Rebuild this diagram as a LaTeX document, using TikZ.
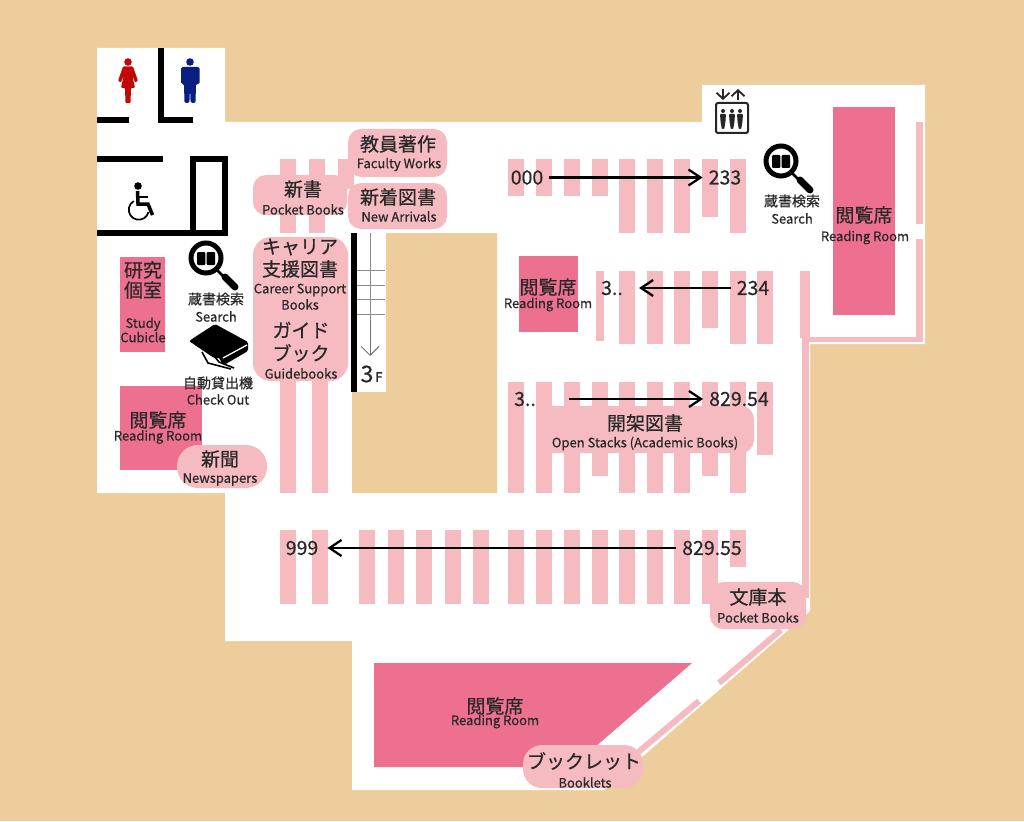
\documentclass[tikz,border=0pt]{standalone}
\usepackage{fontspec}
\usepackage{xcolor}
\setmainfont{Noto Sans CJK JP}[FakeBold=0.5]
\usetikzlibrary{arrows.meta}
\definecolor{floorbg}{RGB}{237,205,155}
\definecolor{shelfpink}{RGB}{245,187,193}
\definecolor{seatpink}{RGB}{238,112,144}
\definecolor{labeldark}{RGB}{40,40,40}
\definecolor{ladyred}{RGB}{192,8,8}
\definecolor{mannavy}{RGB}{10,30,130}
\tikzset{
  shelf/.style={fill=shelfpink,draw=none},
  seat/.style={fill=seatpink,draw=none},
  wall/.style={black,line width=6pt},
  tagbox/.style={fill=shelfpink,rounded corners=13pt,inner sep=0pt,outer sep=0pt},
  jplabel/.style={text=labeldark,inner sep=0pt,font=\fontsize{19}{21}\selectfont},
  jpsmall/.style={text=labeldark,inner sep=0pt,font=\fontsize{14}{16}\selectfont},
  enlabel/.style={text=labeldark,inner sep=0pt,font=\fontsize{13}{14}\selectfont},
  numlabel/.style={text=labeldark,inner sep=0pt,font=\fontsize{19.5}{21}\selectfont},
  callarrow/.style={line width=2.3pt,-{Straight Barb[length=12pt,width=16pt]}},
}
% magnifier with open book, #1 = offset from the left-hand one
\newcommand{\lensicon}[1]{
  \begin{scope}[shift={(#1)}]
    \draw[black,line width=5pt] (206,258) circle (15pt);
    \draw[black,line width=2.5pt] (216,269) -- (224,277);
    \draw[black,line width=7pt,line cap=round] (225,277) -- (235,287);
    \fill[black,rounded corners=1pt] (197,252) rectangle (205.4,265);
    \fill[black,rounded corners=1pt] (206.6,252) rectangle (215,265);
  \end{scope}
}
\begin{document}
\begin{tikzpicture}[x=1pt,y=-1pt]
\useasboundingbox (0,0) rectangle (1024,821);
\fill[floorbg] (0,0) rectangle (1024,821);

% floor
\fill[white] (97,48) -- (225,48) -- (225,122) -- (702,122) -- (702,85) -- (925,85)
  -- (925,344) -- (810,344) -- (810,611) -- (604,790) -- (352,790) -- (352,641)
  -- (225,641) -- (225,493) -- (97,493) -- cycle;
\fill[floorbg] (386,233) -- (497,233) -- (497,493) -- (352,493) -- (352,392) -- (386,392) -- cycle;

% shelves, top right block
\foreach \x in {508,536,564,592}
  \fill[shelf] (\x,159) rectangle ++(16,37);
\foreach \x in {619,647,674,730}
  \fill[shelf] (\x,159) rectangle ++(16,74);
\fill[shelf] (702,159) rectangle ++(16,58);
% second row
\fill[shelf] (596,271) rectangle (604,341);
\foreach \x in {619,647,674,730,757}
  \fill[shelf] (\x,271) rectangle ++(16,73);
\fill[shelf] (702,271) rectangle ++(16,57);
\fill[shelf] (800,271) rectangle (810,338);
% third row
\foreach \x in {508,536,564,619,647,674,730}
  \fill[shelf] (\x,382) rectangle ++(16,111);
\foreach \x in {592,702}
  \fill[shelf] (\x,382) rectangle ++(16,94);
\fill[shelf] (757,382) rectangle ++(16,73);
% long row
\foreach \x in {280,312,359,388,416,445,473,508,536,564,592,619,647,674,702}
  \fill[shelf] (\x,530) rectangle ++(16,74);
\fill[shelf] (730,530) rectangle ++(16,37);
% left block
\foreach \x in {280,309}
  \fill[shelf] (\x,159) rectangle ++(16,74);
\fill[shelf] (338,159) rectangle ++(16,30);
\foreach \x in {280,312}
  \fill[shelf] (\x,300) rectangle ++(16,193);
% strips along the walls
\fill[shelf] (916,122) rectangle (923,224);
\fill[shelf] (916,239) rectangle (923,342);
\fill[shelf] (803,337) rectangle (923,342);
\fill[shelf] (802,337) rectangle (809,598);
\draw[shelfpink,line width=6pt] (781,630) -- (719,683);
\draw[shelfpink,line width=6pt] (699,701) -- (636,754);

% reading rooms
\fill[seat] (120,257) rectangle (165,352);
\fill[seat] (120,386) rectangle (202,470);
\fill[seat] (519,256) rectangle (578,332);
\fill[seat] (833,107) rectangle (895,315);
\fill[seat] (374,663) -- (692,663) -- (572,767) -- (374,767) -- cycle;

% walls
\draw[wall] (161,48) -- (161,120) -- (193,120);
\draw[wall] (97,120) -- (129,120);
\draw[wall] (97,159) -- (163,159);
\draw[wall] (97,233) -- (225,233) -- (225,159) -- (193,159) -- (193,233);
\fill[black] (351,233) rectangle (357,392);

% stairs
\draw[black!45,line width=1pt] (370,233) -- (370,350);
\foreach \y in {270,285,299,314}
  \draw[black!45,line width=1pt] (357,\y) -- (385,\y);
\coordinate (stairtop) at (370,320);
\coordinate (stairend) at (370,356);
\draw[black!55,line width=1pt,-{Straight Barb[length=9pt,width=18pt]}] (stairtop) -- (stairend);
\node[numlabel,font=\fontsize{23}{26}\selectfont] (floornum) at (367,374) {3};
\node[numlabel,font=\fontsize{13}{14}\selectfont] (floorunit) at (379,377) {F};

% toilets
\fill[ladyred] (128,62) circle (3.8pt);
\fill[ladyred,rounded corners=1pt] (123,66.5) -- (133,66.5) -- (138,81) -- (135,82.5) -- (132,74)
  -- (135,88) -- (131,88) -- (130.5,103) -- (125.5,103) -- (125,88) -- (121,88) -- (124,74)
  -- (121,82.5) -- (118,81) -- cycle;
\fill[mannavy] (190,62) circle (3.8pt);
\fill[mannavy,rounded corners=1.5pt] (181,67) -- (199.5,67) -- (199.5,84) -- (196,84) -- (195.5,103)
  -- (190.6,103) -- (190,87) -- (189.4,103) -- (184.5,103) -- (184,84) -- (181,84) -- cycle;

% wheelchair
\fill[black] (138,186) circle (3.8pt);
\draw[black,line width=3.5pt] (137.5,191) -- (138,204) -- (148,204) -- (152.5,215);
\draw[black,line width=2pt] (138,197) -- (148,197);
\draw[black,line width=1.7pt] (148.5,212) arc[start angle=-13,end angle=-240,radius=10pt];

% elevator
\draw[black!85,line width=2pt,rounded corners=2pt] (716,103) rectangle (748,133);
\foreach \x in {723,732,740} {
  \fill[black!85] (\x,111) circle (2pt);
  \fill[black!85,rounded corners=0.8pt] (\x-3,114) -- (\x+3,114) -- (\x+2.4,122) -- (\x+1.2,129)
    -- (\x-1.2,129) -- (\x-2.4,122) -- cycle;
}
\draw[black!85,line width=1.8pt,-{Straight Barb[length=6pt,width=13pt]}] (723,89) -- (723,100);
\draw[black!85,line width=1.8pt,-{Straight Barb[length=6pt,width=13pt]}] (738,100) -- (738,89);

% search and check out
\lensicon{0,0}
\lensicon{575,-97}
\fill[black,rounded corners=1.5pt] (189,341) -- (215,324) -- (248,342) -- (248,351) -- (224,365)
  -- (222,358) -- (214,358) -- cycle;
\draw[white,line width=1.3pt] (223,358) -- (247,345);
\draw[black,line width=1.6pt] (202,352) -- (208,363) -- (231,369);
\draw[black,line width=1.6pt] (210,351) -- (219,362) -- (234,368);
\draw[black,line width=2pt] (217,353) -- (224,364);

% tags
\node[tagbox,minimum width=99pt,minimum height=48pt] (facultytag) at (397.5,153) {};
\node[tagbox,minimum width=99pt,minimum height=46pt] (arrivaltag) at (397.5,206) {};
\node[tagbox,minimum width=94pt,minimum height=40pt] (pockettag) at (300,195) {};
\node[tagbox,minimum width=95pt,minimum height=144pt,rounded corners=18pt] (careertag) at (300.5,309) {};
\node[tagbox,minimum width=90pt,minimum height=43pt,rounded corners=21pt] (newstag) at (222,466.5) {};
\node[tagbox,minimum width=217pt,minimum height=47pt] (stacktag) at (645.5,429.5) {};
\node[tagbox,minimum width=96pt,minimum height=47pt] (bunkotag) at (758,605.5) {};
\node[tagbox,minimum width=120pt,minimum height=43pt,rounded corners=19pt] (bookletag) at (583,766.5) {};

% labels
\node[jplabel] (facultyjp) at (398,144) {教員著作};
\node[enlabel] (facultyen) at (399,164.5) {Faculty Works};
\node[jplabel] (arrivaljp) at (398,197) {新着図書};
\node[enlabel] (arrivalen) at (399,216.5) {New Arrivals};
\node[jplabel] (pocketjp) at (303,189) {新書};
\node[enlabel] (pocketen) at (303,209.5) {Pocket Books};
\node[jplabel] (careerjpa) at (300,247) {キャリア};
\node[jplabel] (careerjpb) at (300,269) {支援図書};
\node[enlabel] (careerena) at (300,290) {Career Support};
\node[enlabel] (careerenb) at (300,304.5) {Books};
\node[jplabel] (guidejpa) at (301,330) {ガイド};
\node[jplabel] (guidejpb) at (301,353) {ブック};
\node[enlabel] (guideen) at (301,373.5) {Guidebooks};
\node[jplabel] (cubiclejpa) at (143,270) {研究};
\node[jplabel] (cubiclejpb) at (143,290) {個室};
\node[enlabel,align=center,font=\fontsize{13}{10}\selectfont] (cubicleen) at (143,330) {Study\\Cubicle};
\node[jpsmall] (searchjpa) at (216,299) {蔵書検索};
\node[enlabel] (searchena) at (216,316.5) {Search};
\node[jpsmall] (searchjpb) at (792,201) {蔵書検索};
\node[enlabel] (searchenb) at (792,218.5) {Search};
\node[jpsmall] (checkjp) at (218,383) {自動貸出機};
\node[enlabel] (checken) at (218,399.5) {Check Out};
\node[jplabel] (readjpa) at (158,420) {閲覧席};
\node[enlabel] (readena) at (158,437) {Reading Room};
\node[jplabel] (newsjp) at (220,459) {新聞};
\node[enlabel] (newsen) at (220,479.5) {Newspapers};
\node[jplabel] (readjpb) at (548,287) {閲覧席};
\node[enlabel] (readenb) at (548,304.5) {Reading Room};
\node[jplabel] (readjpc) at (864,215) {閲覧席};
\node[enlabel] (readenc) at (865,237.5) {Reading Room};
\node[jplabel] (readjpd) at (495,706) {閲覧席};
\node[enlabel] (readend) at (495,721.5) {Reading Room};
\node[jplabel] (stackjp) at (645,423) {開架図書};
\node[enlabel] (stacken) at (645,443.5) {Open Stacks (Academic Books)};
\node[jplabel] (bunkojp) at (758,597) {文庫本};
\node[enlabel] (bunkoen) at (758,617.5) {Pocket Books};
\node[jplabel] (bookletjp) at (584,761) {ブックレット};
\node[enlabel] (bookleten) at (585,782.5) {Booklets};

% call number ranges
\node[numlabel] (numa) at (527,177.5) {000};
\node[numlabel] (numb) at (725,177.5) {233};
\node[numlabel] (numc) at (612,288) {3..};
\node[numlabel] (numd) at (753,288) {234};
\node[numlabel] (nume) at (525,399) {3..};
\node[numlabel] (numf) at (739,399) {829.54};
\node[numlabel] (numg) at (712,548) {829.55};
\node[numlabel] (numh) at (302,548) {999};
\draw[callarrow,shorten <=6pt,shorten >=6pt] (numa.east) -- (numb.west);
\draw[callarrow,shorten <=6pt,shorten >=16pt] (numd.west) -- (numc.east);
\draw[callarrow,shorten <=33pt,shorten >=6pt] (nume.east) -- (numf.west);
\draw[callarrow,shorten <=6pt,shorten >=9pt] (numg.west) -- (numh.east);
\end{tikzpicture}
\end{document}
